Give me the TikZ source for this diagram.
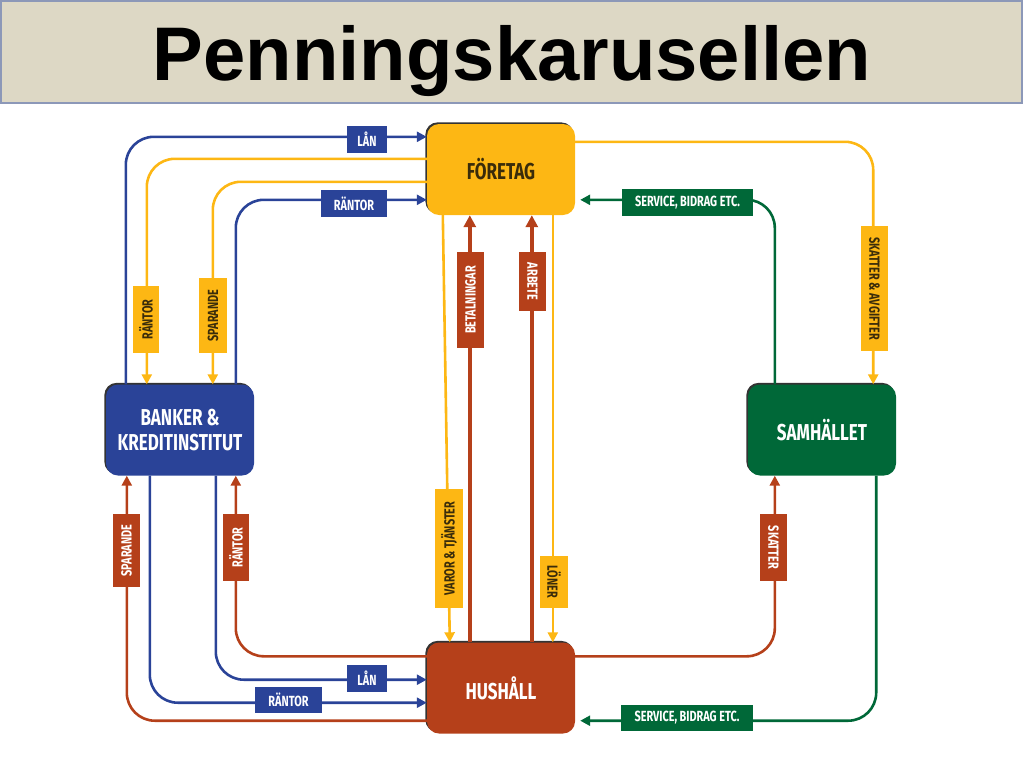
\documentclass[tikz,border=0pt]{standalone}
\usepackage{fontspec}
\usetikzlibrary{arrows.meta,shadows}
\newfontfamily\titlefont{Liberation Sans}
\newfontfamily\condfont[FakeStretch=0.74]{Fira Sans}
\definecolor{bankblue}{HTML}{2A4398}
\definecolor{firmyellow}{HTML}{FDB714}
\definecolor{homebrown}{HTML}{B5401A}
\definecolor{stategreen}{HTML}{006838}
\definecolor{titlebg}{HTML}{DDD8C5}
\definecolor{titleline}{HTML}{8C98B8}
\definecolor{darktext}{HTML}{3A2C0A}

\begin{document}
\begin{tikzpicture}[x=1pt, y=-1pt,
    sector/.style={rounded corners=12pt, minimum width=148pt, minimum height=91pt,
      fill=#1, text=white, align=center,
      font=\condfont\bfseries\fontsize{23}{25}\selectfont,
      general shadow={fill=black!80, shadow xshift=-1.6pt, shadow yshift=1.6pt}},
    tagbox/.style={fill=#1, text=white, inner sep=0pt,
      font=\condfont\bfseries\fontsize{14.7}{15}\selectfont},
    flow/.style={draw=#1, line width=2.6pt, rounded corners=28pt,
      -{Triangle[length=10pt,width=10pt]}},
    heavyflow/.style={draw=#1, line width=4.5pt, -{Triangle[length=12pt,width=12pt]}}]
    \useasboundingbox (0,0) rectangle (1024,768);

    % Title bar
    \draw[titleline, fill=titlebg, line width=1.5pt] (1,1) rectangle (1022,103);
    \node[anchor=base, font=\titlefont\bfseries\fontsize{76}{80}\selectfont] (title) at (512,80) {Penningskarusellen};

    % Sectors
    \node[sector=firmyellow, text=darktext] (foretag) at (501,169.5) {FÖRETAG};
    \node[sector=bankblue] (banker) at (180,430) {BANKER \&\\KREDITINSTITUT};
    \node[sector=stategreen] (samhallet) at (822,430) {SAMHÄLLET};
    \node[sector=homebrown] (hushall) at (501,688) {HUSHÅLL};

    % Flows between banks and firms
    \draw[flow=bankblue] ([xshift=20pt]banker.north west) |- ([yshift=-13pt]foretag.north west);
    \draw[flow=firmyellow] ([yshift=-35pt]foretag.north west) -| ([xshift=41pt]banker.north west);
    \draw[flow=firmyellow] ([yshift=-58pt]foretag.north west) -| ([xshift=107pt]banker.north west);
    \draw[flow=bankblue] ([xshift=130pt]banker.north west) |- ([yshift=-76pt]foretag.north west);

    % Flows between firms and society
    \draw[flow=firmyellow] ([yshift=-18pt]foretag.north east) -| ([xshift=-23pt]samhallet.north east);
    \draw[flow=stategreen, shorten >=5pt] ([xshift=27pt]samhallet.north west) |- ([yshift=-76pt]foretag.north east);

    % Flows between firms and households
    \draw[flow=firmyellow] ([xshift=16pt]foretag.south west) -- ([xshift=23pt]hushall.north west);
    \draw[heavyflow=homebrown] ([xshift=43pt]hushall.north west) -- ([xshift=43pt]foretag.south west);
    \draw[heavyflow=homebrown] ([xshift=105pt]hushall.north west) -- ([xshift=105pt]foretag.south west);
    \draw[flow=firmyellow] ([xshift=126pt]foretag.south west) -- ([xshift=126pt]hushall.north west);

    % Flows between households and banks
    \draw[flow=homebrown] ([yshift=13pt]hushall.south west) -| ([xshift=21pt]banker.south west);
    \draw[flow=bankblue] ([xshift=44pt]banker.south west) |- ([yshift=31pt]hushall.south west);
    \draw[flow=bankblue] ([xshift=110pt]banker.south west) |- ([yshift=54pt]hushall.south west);
    \draw[flow=homebrown] ([yshift=-14pt]hushall.north west) -| ([xshift=130pt]banker.south west);

    % Flows between households and society
    \draw[flow=homebrown] ([yshift=-14pt]hushall.north east) -| ([xshift=27pt]samhallet.south west);
    \draw[flow=stategreen, shorten >=5pt] ([xshift=-20pt]samhallet.south east) |- ([yshift=13pt]hushall.south east);

    % Flow labels
    \node[tagbox=bankblue, minimum width=40pt, minimum height=27pt] (lanTop) at (367,139.5) {LÅN};
    \node[tagbox=bankblue, minimum width=66pt, minimum height=27pt] (rantorTop) at (354,203.5) {RÄNTOR};
    \node[tagbox=firmyellow, text=darktext, rotate=90, minimum width=67pt, minimum height=26pt] (rantorFirm) at (146,319.5) {RÄNTOR};
    \node[tagbox=firmyellow, text=darktext, rotate=90, minimum width=75pt, minimum height=28pt] (sparandeFirm) at (213,315.5) {SPARANDE};
    \node[tagbox=firmyellow, text=darktext, rotate=-90, minimum width=125pt, minimum height=27pt] (skatterAvgifter) at (874.5,288.5) {SKATTER \& AVGIFTER};
    \node[tagbox=stategreen, minimum width=131pt, minimum height=27pt] (serviceTop) at (687.5,202.5) {SERVICE, BIDRAG ETC.};
    \node[tagbox=homebrown, rotate=90, minimum width=96pt, minimum height=27pt] (betalningar) at (470.5,300) {BETALNINGAR};
    \node[tagbox=homebrown, rotate=-90, minimum width=59pt, minimum height=27pt] (arbete) at (532.5,281.5) {ARBETE};
    \node[tagbox=firmyellow, text=darktext, rotate=90, minimum width=119pt, minimum height=28pt] (varor) at (449,548.5) {VAROR \& TJÄNSTER};
    \node[tagbox=firmyellow, text=darktext, rotate=-90, minimum width=52pt, minimum height=28pt] (loner) at (554,582) {LÖNER};
    \node[tagbox=homebrown, rotate=90, minimum width=73pt, minimum height=27pt] (sparandeHome) at (126.5,550.5) {SPARANDE};
    \node[tagbox=homebrown, rotate=90, minimum width=67pt, minimum height=26pt] (rantorHome) at (236,547.5) {RÄNTOR};
    \node[tagbox=homebrown, rotate=-90, minimum width=67pt, minimum height=27pt] (skatter) at (773.5,547.5) {SKATTER};
    \node[tagbox=bankblue, minimum width=67pt, minimum height=26pt] (rantorBottom) at (288.5,700) {RÄNTOR};
    \node[tagbox=bankblue, minimum width=40pt, minimum height=27pt] (lanBottom) at (367,678.5) {LÅN};
    \node[tagbox=stategreen, minimum width=132pt, minimum height=26pt] (serviceBottom) at (687,718) {SERVICE, BIDRAG ETC.};
\end{tikzpicture}
\end{document}
